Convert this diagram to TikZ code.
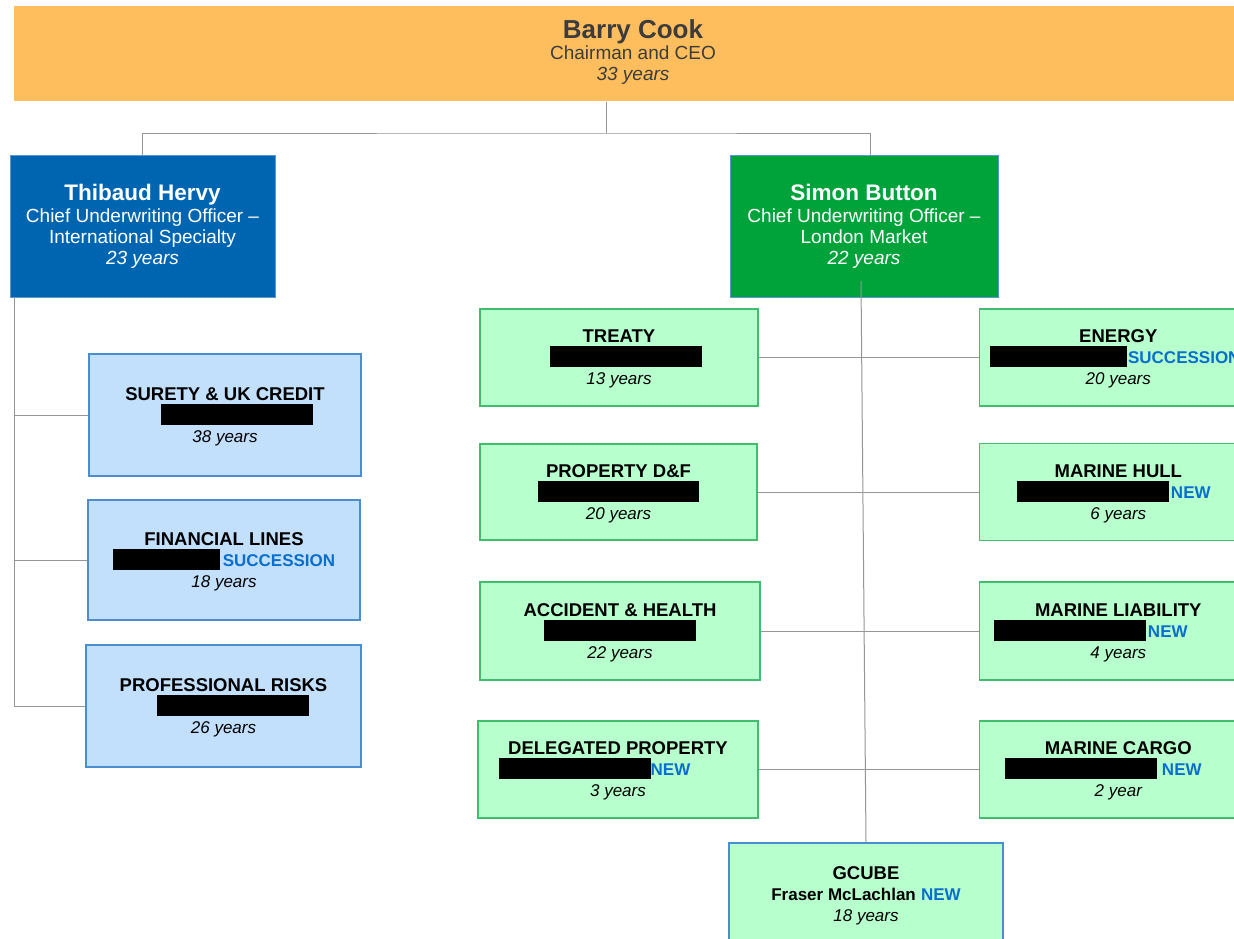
\documentclass[tikz,border=0pt]{standalone}
\usepackage{fontspec}
\setmainfont{Liberation Sans}
\usetikzlibrary{positioning}

\definecolor{ceoorange}{RGB}{255,190,94}
\definecolor{ceotext}{RGB}{60,60,60}
\definecolor{intlblue}{RGB}{0,101,177}
\definecolor{londongreen}{RGB}{0,163,58}
\definecolor{headline}{RGB}{90,150,210}
\definecolor{paleblue}{RGB}{194,224,252}
\definecolor{paleblueline}{RGB}{74,142,208}
\definecolor{palegreen}{RGB}{184,255,206}
\definecolor{palegreenline}{RGB}{64,190,110}
\definecolor{statusblue}{RGB}{10,110,205}
\definecolor{linkgray}{RGB}{150,150,150}

\newcommand{\redact}[1]{\rule[-3.5pt]{#1}{21pt}}
\newcommand{\status}[1]{{\color{statusblue}\fontsize{17}{21}\selectfont\bfseries #1}}
\newcommand{\yrs}[1]{{\fontsize{17}{21}\selectfont\itshape #1}}
\newcommand{\pad}[1]{\hbox to #1{}}

\tikzset{
    box/.style = {
        rectangle,
        draw,
        line width=1.3pt,
        inner sep=0pt,
        align=center,
        font=\fontsize{18.5}{21}\selectfont
    },
    ceobox/.style   = {box, draw=none, fill=ceoorange, text=ceotext, text depth=7pt, font=\fontsize{19}{21}\selectfont},
    headbox/.style  = {box, line width=0.8pt, draw=headline, text=white, font=\fontsize{19}{21}\selectfont},
    bluebox/.style  = {box, text depth=0pt, draw=paleblueline, fill=paleblue},
    greenbox/.style = {box, text depth=0pt, draw=palegreenline, fill=palegreen},
    link/.style = {draw=linkgray, line width=1pt}
}

\begin{document}
\begin{tikzpicture}[x=1pt, y=-1pt, node distance=40pt and 220pt]

\fill[white] (0,0) rectangle (1234,938);
\useasboundingbox (0,0) rectangle (1234,938);

% Chairman
\node[ceobox, minimum width=1238pt, minimum height=95pt] (ceo) at (633,53.5)
    {{\fontsize{26}{21}\selectfont\bfseries Barry Cook}\\Chairman and CEO\\\textit{33 years}};

% Chief Underwriting Officers
\node[headbox, fill=intlblue, minimum width=265pt, minimum height=142pt] (thib) at (142.5,226)
    {{\fontsize{22.5}{21}\selectfont\bfseries Thibaud Hervy}\\[1pt]Chief Underwriting Officer –\\International Specialty\\\textit{23 years}};
\node[headbox, fill=londongreen, minimum width=268pt, minimum height=142pt] (simon) at (864,226)
    {{\fontsize{22.5}{21}\selectfont\bfseries Simon Button}\\[1pt]Chief Underwriting Officer –\\London Market\\\textit{22 years}};

% --- INTERNATIONAL SPECIALTY ---
\node[bluebox, minimum width=272pt, minimum height=122pt] (surety) at (225,415)
    {\textbf{SURETY \& UK CREDIT}\\\pad{24pt}\redact{152pt}\\\yrs{38 years}};
\node[bluebox, minimum width=272pt, minimum height=120pt] (finlines) at (224,560)
    {\textbf{FINANCIAL LINES}\\\redact{107pt}\hspace{3pt}\status{SUCCESSION}\\\yrs{18 years}};
\node[bluebox, minimum width=275pt, minimum height=122pt] (prof) at (223.5,706)
    {\textbf{PROFESSIONAL RISKS}\\\pad{19pt}\redact{152pt}\\\yrs{26 years}};

% --- LONDON MARKET ---
\node[greenbox, minimum width=278pt, minimum height=97pt] (treaty) at (619,357.5)
    {\textbf{TREATY}\\\pad{14pt}\redact{152pt}\\\yrs{13 years}};
\node[greenbox, minimum width=277pt, minimum height=96pt] (propdf) at (618.5,492)
    {\textbf{PROPERTY D\&F}\\\redact{161pt}\\\yrs{20 years}};
\node[greenbox, minimum width=280pt, minimum height=98pt] (acchealth) at (620,631)
    {\textbf{ACCIDENT \& HEALTH}\\\redact{152pt}\\\yrs{22 years}};
\node[greenbox, minimum width=280pt, minimum height=97pt] (delprop) at (618,769.5)
    {\textbf{DELEGATED PROPERTY}\\\redact{152pt}\status{NEW}\pad{47pt}\\\yrs{3 years}};

\node[greenbox, minimum width=278pt, minimum height=97pt, right=of treaty] (energy)
    {\textbf{ENERGY}\\\redact{137pt}\hspace{1pt}\status{SUCCESSION}\pad{6pt}\\\yrs{20 years}};
\node[greenbox, minimum width=278pt, minimum height=97pt, right=221pt of propdf] (hull)
    {\textbf{MARINE HULL}\\\redact{152pt}\hspace{2pt}\status{NEW}\pad{9pt}\\\yrs{6 years}};
\node[greenbox, minimum width=278pt, minimum height=98pt, right=218pt of acchealth] (liability)
    {\textbf{MARINE LIABILITY}\\\redact{152pt}\hspace{2pt}\status{NEW}\pad{55pt}\\\yrs{4 years}};
\node[greenbox, minimum width=278pt, minimum height=97pt, right=of delprop] (cargo)
    {\textbf{MARINE CARGO}\\\redact{152pt}\hspace{5pt}\status{NEW}\pad{30pt}\\\yrs{2 year}};

\node[greenbox, draw=paleblueline, minimum width=274pt, minimum height=102pt] (gcube) at (866,894)
    {\textbf{GCUBE}\\{\fontsize{17}{21}\selectfont\bfseries Fraser McLachlan} \status{NEW}\\\yrs{18 years}};

% Connectors
\coordinate (hub) at (606,133);
\draw[link] (ceo.south -| hub) -- (hub);
\draw[link] (thib.north) |- (hub) -| ([xshift=6pt]simon.north);

\coordinate (spine) at ([xshift=5pt]thib.south west);
\draw[link] (spine) |- (prof.west);
\draw[link] (spine |- surety.west) -- (surety.west);
\draw[link] (spine |- finlines.west) -- (finlines.west);

\coordinate (trunk) at (861,281);
\draw[link] (trunk) -- (gcube.north);

\draw[link] (treaty.east) -- (energy.west);
\draw[link] (propdf.east) -- (hull.west);
\draw[link] (acchealth.east) -- (liability.west);
\draw[link] (delprop.east) -- (cargo.west);

\end{tikzpicture}
\end{document}
